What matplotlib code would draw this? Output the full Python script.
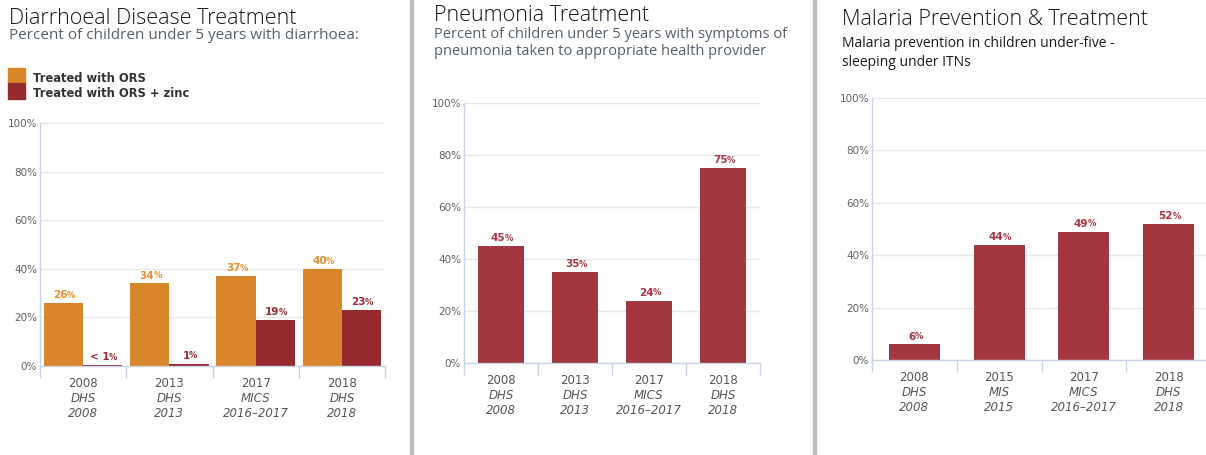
import numpy as np
import matplotlib
matplotlib.use("Agg")
import matplotlib.pyplot as plt
from matplotlib.patches import Rectangle

# ---- data ----
diar_years = ["2008", "2013", "2017", "2018"]
diar_surveys = ["DHS", "DHS", "MICS", "DHS"]
diar_periods = ["2008", "2013", "2016–2017", "2018"]
ors = [26, 34, 37, 40]
ors_zinc = [0.4, 1, 19, 23]
ors_zinc_labels = ["< 1", "1", "19", "23"]

pneu_years = ["2008", "2013", "2017", "2018"]
pneu_surveys = ["DHS", "DHS", "MICS", "DHS"]
pneu_periods = ["2008", "2013", "2016–2017", "2018"]
pneu_care = [45, 35, 24, 75]

mal_years = ["2008", "2015", "2017", "2018"]
mal_surveys = ["DHS", "MIS", "MICS", "DHS"]
mal_periods = ["2008", "2015", "2016–2017", "2018"]
itn_use = [6, 44, 49, 52]

# ---- style ----
W, H = 1206, 455
ORANGE = "#d9862a"
DARK_RED = "#952a2f"
RED = "#a3373f"
AXIS_C = "#c9d4ea"
GRID_C = "#e8e8e8"
TICK_C = "#606060"
LABEL_C = "#555555"

fig = plt.figure(figsize=(W / 100, H / 100), dpi=100)
fig.patch.set_facecolor("white")


def fx(x):
    return x / W


def fy(y):
    return 1 - y / H


def make_axes(left, right, y0, y100):
    return fig.add_axes([fx(left), fy(y0), (right - left) / W, (y0 - y100) / H])


def style_axes(ax, years, surveys, periods):
    n = len(years)
    ax.set_xlim(-0.5, n - 0.5)
    ax.set_ylim(0, 100)
    ax.set_yticks(np.arange(0, 101, 20))
    ax.set_yticklabels([f"{v}%" for v in range(0, 101, 20)])
    ax.set_xticks(np.arange(n + 1) - 0.5)
    ax.set_xticklabels([])
    ax.tick_params(axis="x", length=8.5, width=1, color=AXIS_C, direction="out")
    ax.tick_params(axis="y", length=0, pad=2, labelsize=7.5, labelcolor=TICK_C)
    for s in ["top", "right"]:
        ax.spines[s].set_visible(False)
    for s in ["left", "bottom"]:
        ax.spines[s].set_color(AXIS_C)
        ax.spines[s].set_linewidth(1)
    ax.grid(axis="y", color=GRID_C, linewidth=1)
    ax.set_axisbelow(True)
    trans = ax.get_xaxis_transform()
    for i in range(n):
        ax.annotate(years[i], xy=(i, 0), xycoords=trans, xytext=(0, -12.3),
                    textcoords="offset points", ha="center", va="center",
                    fontsize=8.5, color=LABEL_C)
        ax.annotate(surveys[i], xy=(i, 0), xycoords=trans, xytext=(0, -23.2),
                    textcoords="offset points", ha="center", va="center",
                    fontsize=8.5, color=LABEL_C, style="italic")
        ax.annotate(periods[i], xy=(i, 0), xycoords=trans, xytext=(0, -34.2),
                    textcoords="offset points", ha="center", va="center",
                    fontsize=8.5, color=LABEL_C, style="italic")


def pct_label(ax, x, y, num, color):
    t = ax.annotate(num, xy=(x, y), xytext=(-2, 2), textcoords="offset points",
                    ha="center", va="bottom", fontsize=7.5, fontweight="bold",
                    color=color)
    ax.annotate("%", xy=(1, 0), xycoords=t, xytext=(-0.6, 0.3),
                textcoords="offset points", ha="left", va="bottom",
                fontsize=6, fontweight="bold", color=color)


def header(x, title, sub_lines, sub_color, sub_size, title_y, sub_y, sub_step):
    fig.text(fx(x), fy(title_y), title, family="Open Sans", fontweight="light",
             fontsize=15.5, color="#161616", va="baseline", ha="left")
    for k, line in enumerate(sub_lines):
        fig.text(fx(x), fy(sub_y + k * sub_step), line, family="Open Sans",
                 fontsize=sub_size, color=sub_color, va="baseline", ha="left")


# ---- panel 1: diarrhoea ----
ax1 = make_axes(40, 385, 366, 123)
style_axes(ax1, diar_years, diar_surveys, diar_periods)
xpos = np.arange(len(ors))
bw = 0.455
ax1.bar(xpos - bw / 2, ors, width=bw, color=ORANGE, zorder=2)
ax1.bar(xpos + bw / 2, ors_zinc, width=bw, color=DARK_RED, zorder=2)
for i in range(len(ors)):
    pct_label(ax1, xpos[i] - bw / 2, ors[i], str(ors[i]), "#e8902f")
    pct_label(ax1, xpos[i] + bw / 2, ors_zinc[i], ors_zinc_labels[i], "#9a2a34")

header(9, "Diarrhoeal Disease Treatment",
       ["Percent of children under 5 years with diarrhoea:"],
       "#56606b", 11, 24, 39, 17)

# legend swatches
fig.add_artist(Rectangle((fx(8), fy(83)), 17 / W, 15 / H, color=ORANGE,
                         transform=fig.transFigure))
fig.add_artist(Rectangle((fx(8), fy(99)), 17 / W, 16 / H, color=DARK_RED,
                         transform=fig.transFigure))
fig.text(fx(33), fy(82), "Treated with ORS", fontsize=8.3, fontweight="bold",
         color="#333333", va="baseline")
fig.text(fx(33), fy(97), "Treated with ORS + zinc", fontsize=8.3,
         fontweight="bold", color="#333333", va="baseline")

# ---- panel 2: pneumonia ----
ax2 = make_axes(464, 760, 363, 103)
style_axes(ax2, pneu_years, pneu_surveys, pneu_periods)
xpos = np.arange(len(pneu_care))
ax2.bar(xpos, pneu_care, width=0.62, color=RED, zorder=2)
for i, v in enumerate(pneu_care):
    pct_label(ax2, xpos[i], v, str(v), "#a83440")

header(434, "Pneumonia Treatment",
       ["Percent of children under 5 years with symptoms of",
        "pneumonia taken to appropriate health provider"],
       "#56606b", 10.5, 21, 38, 17)

# ---- panel 3: malaria ----
ax3 = make_axes(872, 1211, 360, 98)
style_axes(ax3, mal_years, mal_surveys, mal_periods)
xpos = np.arange(len(itn_use))
ax3.bar(xpos, itn_use, width=0.6, color=RED, zorder=2)
for i, v in enumerate(itn_use):
    pct_label(ax3, xpos[i], v, str(v), "#a83440")

header(842, "Malaria Prevention & Treatment",
       ["Malaria prevention in children under-five -",
        "sleeping under ITNs"],
       "#1a1a1a", 10, 25, 47, 19)

# panel separators
for sx in (410, 813):
    fig.add_artist(Rectangle((fx(sx), 0), 3 / W, 1, color="#bdbdbd",
                             transform=fig.transFigure))

fig.savefig("out.png", dpi=100, facecolor="white")
